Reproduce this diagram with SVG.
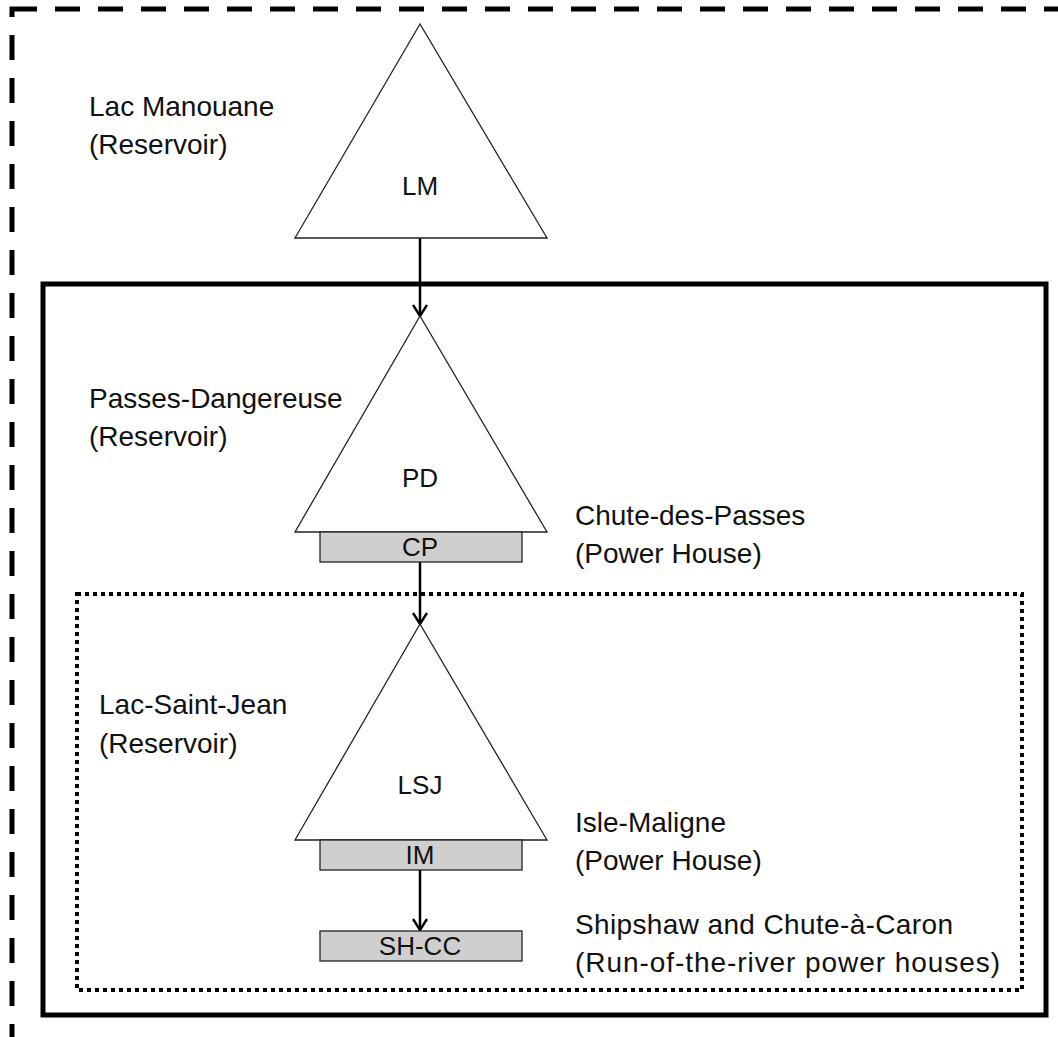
<svg xmlns="http://www.w3.org/2000/svg" width="1058" height="1037" viewBox="0 0 1058 1037">
<style>
.lbl{font-family:"Liberation Sans",Arial,sans-serif;font-size:28px;fill:#111}
.in{font-family:"Liberation Sans",Arial,sans-serif;font-size:26px;fill:#111;text-anchor:middle}
.tri{fill:#fff;stroke:#222;stroke-width:1.3}
.ph{fill:#d0cece;stroke:#222;stroke-width:1.3}
.con{stroke:#000;stroke-width:2.5;fill:none}
</style>
<defs>
<marker id="arr" markerWidth="16" markerHeight="16" refX="13" refY="8" orient="auto" markerUnits="userSpaceOnUse" viewBox="0 0 16 16">
<path d="M2,1 L13,8 L2,15" fill="none" stroke="#000" stroke-width="2.4"/>
</marker>
</defs>
<rect width="1058" height="1037" fill="#fff"/>
<g id="boundaries">
<rect x="12" y="9" width="1120" height="1120" fill="none" stroke="#000" stroke-width="5" stroke-dasharray="25 18"/>
<rect x="43" y="284" width="1003" height="731" fill="none" stroke="#000" stroke-width="5"/>
<rect x="77" y="594" width="945" height="396" fill="none" stroke="#000" stroke-width="4" stroke-dasharray="4 4"/>
</g>
<g id="connectors">
<line class="con" x1="420" y1="238" x2="420" y2="316" marker-end="url(#arr)"/>
<line class="con" x1="420" y1="562" x2="420" y2="624" marker-end="url(#arr)"/>
<line class="con" x1="420" y1="870" x2="420" y2="930" marker-end="url(#arr)"/>
</g>
<g id="LM">
<polygon class="tri" points="420,24 295,238 547,238"/>
<text class="in" x="420" y="195">LM</text>
<text class="lbl" x="89" y="116">Lac Manouane</text>
<text class="lbl" x="89" y="154">(Reservoir)</text>
</g>
<g id="PD">
<polygon class="tri" points="420,316 295,532 547,532"/>
<text class="in" x="420" y="487">PD</text>
<text class="lbl" x="89" y="408">Passes-Dangereuse</text>
<text class="lbl" x="89" y="446">(Reservoir)</text>
</g>
<g id="CP">
<rect class="ph" x="320" y="532" width="202" height="30"/>
<text class="in" x="420" y="556">CP</text>
<text class="lbl" x="575" y="525">Chute-des-Passes</text>
<text class="lbl" x="575" y="563">(Power House)</text>
</g>
<g id="LSJ">
<polygon class="tri" points="420,624 295,840 547,840"/>
<text class="in" x="420" y="794">LSJ</text>
<text class="lbl" x="99" y="714">Lac-Saint-Jean</text>
<text class="lbl" x="99" y="753">(Reservoir)</text>
</g>
<g id="IM">
<rect class="ph" x="320" y="840" width="202" height="30"/>
<text class="in" x="420" y="864">IM</text>
<text class="lbl" x="575" y="832">Isle-Maligne</text>
<text class="lbl" x="575" y="870">(Power House)</text>
</g>
<g id="SHCC">
<rect class="ph" x="320" y="931" width="202" height="30"/>
<text class="in" x="420" y="955">SH-CC</text>
<text class="lbl" x="575" y="934" textLength="378">Shipshaw and Chute-à-Caron</text>
<text class="lbl" x="575" y="972" textLength="425">(Run-of-the-river power houses)</text>
</g>
</svg>
